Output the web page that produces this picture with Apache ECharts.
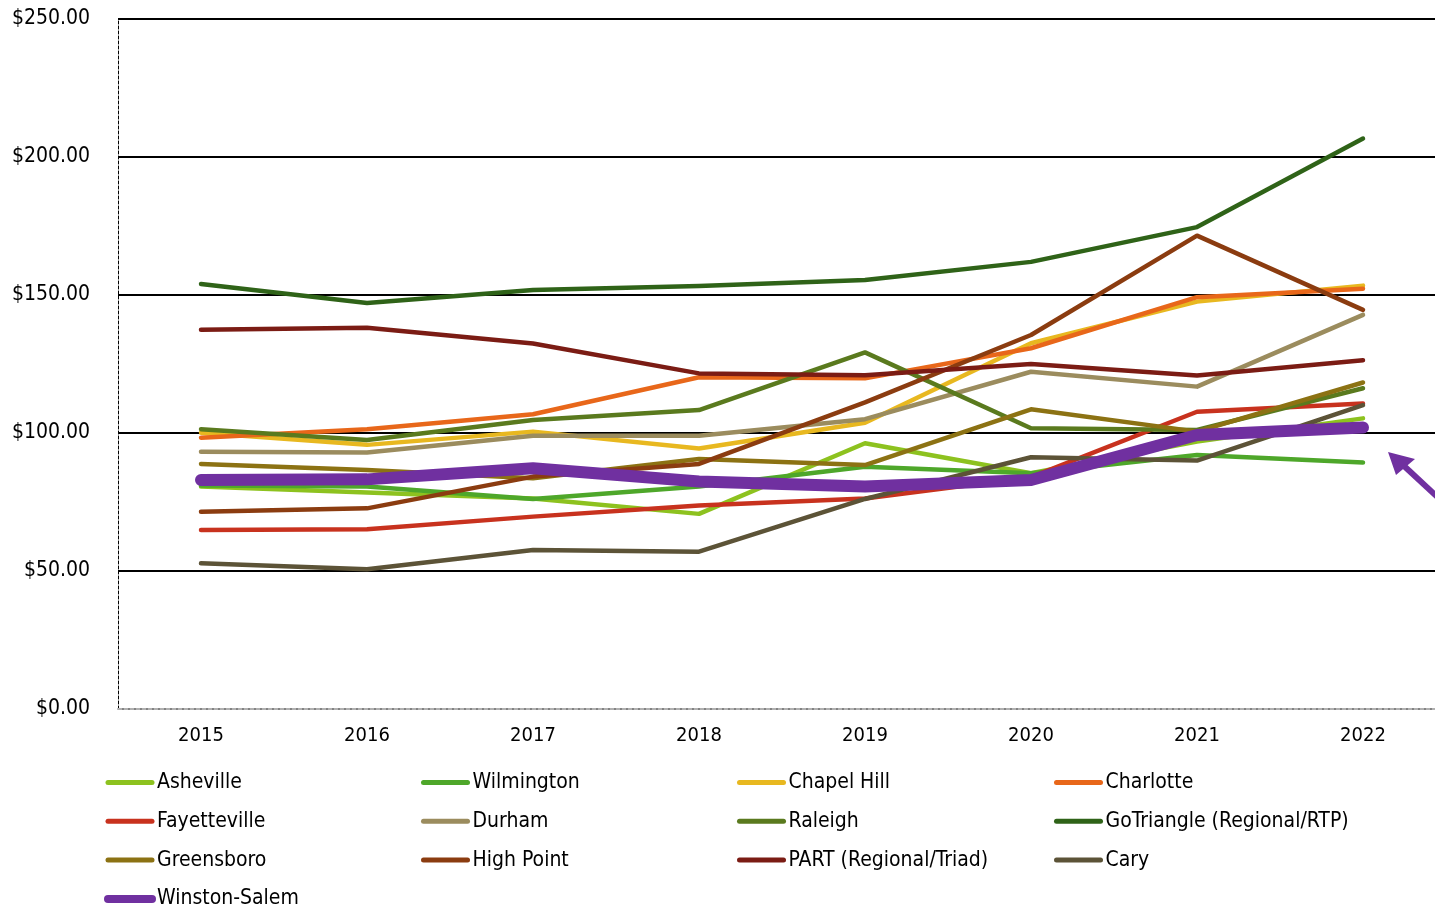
<!DOCTYPE html>
<html>
<head>
<meta charset="utf-8">
<script src="https://cdn.jsdelivr.net/npm/echarts@6/dist/echarts.min.js"></script>
<style>
html,body{margin:0;padding:0;background:#fff;}
#chart{width:1435px;height:908px;}
</style>
</head>
<body>
<div id="chart"></div>
<script>
const years = ['2015','2016','2017','2018','2019','2020','2021','2022'];
const yTicks = [0, 50, 100, 150, 200, 250];

const asheville     = [80.6, 78.4, 76.3, 70.7, 96.3, 85.4, 96.9, 105.3];
const wilmington    = [81.0, 80.6, 76.1, 80.6, 87.8, 85.4, 92.0, 89.3];
const chapelHill    = [100.1, 95.7, 100.5, 94.4, 103.7, 132.5, 147.6, 153.4];
const charlotte     = [98.3, 101.4, 106.8, 120.2, 119.8, 130.7, 149.2, 152.3];
const fayetteville  = [64.9, 65.1, 69.7, 73.7, 76.3, 84.0, 107.7, 110.7];
const durham        = [93.2, 92.9, 99.0, 99.0, 105.0, 122.2, 116.8, 142.8];
const raleigh       = [101.4, 97.5, 104.7, 108.3, 129.2, 101.7, 101.1, 116.2];
const goTriangle    = [154.0, 147.1, 151.8, 153.3, 155.4, 162.0, 174.6, 206.7];
const greensboro    = [88.8, 86.6, 83.6, 90.6, 88.4, 108.6, 100.5, 118.3];
const highPoint     = [71.5, 72.7, 84.2, 88.8, 111.1, 135.5, 171.5, 144.6];
const part          = [137.4, 138.1, 132.4, 121.6, 120.9, 125.0, 120.8, 126.4];
const cary          = [52.8, 50.6, 57.6, 57.0, 76.1, 91.2, 90.0, 110.1];
const winstonSalem  = [83.0, 83.2, 87.2, 82.4, 80.6, 83.0, 99.3, 102.0];

const seriesDefs = [
  {name:'Asheville', data:asheville, color:'#8DC21F', w:4.5},
  {name:'Wilmington', data:wilmington, color:'#4EA72A', w:4.5},
  {name:'Chapel Hill', data:chapelHill, color:'#E8B820', w:4.5},
  {name:'Charlotte', data:charlotte, color:'#E8671A', w:4.5},
  {name:'Fayetteville', data:fayetteville, color:'#C8321E', w:4.5},
  {name:'Durham', data:durham, color:'#9B8C5E', w:4.5},
  {name:'Raleigh', data:raleigh, color:'#5A7A1E', w:4.5},
  {name:'GoTriangle (Regional/RTP)', data:goTriangle, color:'#2F6318', w:4.5},
  {name:'Greensboro', data:greensboro, color:'#8C7213', w:4.5},
  {name:'High Point', data:highPoint, color:'#8B3C10', w:4.5},
  {name:'PART (Regional/Triad)', data:part, color:'#7B1C14', w:4.5},
  {name:'Cary', data:cary, color:'#5C5337', w:4.5},
  {name:'Winston-Salem', data:winstonSalem, color:'#7030A0', w:12}
];

const FONT = '"DejaVu Sans Condensed", "DejaVu Sans", sans-serif';
const chart = echarts.init(document.getElementById('chart'), null, {renderer:'canvas'});

const colLefts = [104, 421, 737, 1054];
const legends = colLefts.map((left, c) => ({
  orient: 'vertical',
  left: left,
  top: 772,
  height: 200,
  itemWidth: 44,
  itemHeight: 21,
  itemGap: 17.8,
  padding: 0,
  selectedMode: false,
  itemStyle: {opacity: 0, borderWidth: 0},
  textStyle: {fontFamily: FONT, fontSize: 21, color: '#000'},
  data: seriesDefs.filter((s, i) => i % 4 === c).map(s => ({
    name: s.name,
    itemStyle: {opacity: 0, borderWidth: 0},
    lineStyle: {width: s.w > 6 ? 8 : 5, cap: 'round', color: s.color, opacity: 1}
  }))
}));

chart.setOption({
  animation: false,
  backgroundColor: '#fff',
  grid: {left: 118, top: 19, width: 1328, bottom: 199, containLabel: false, outerBoundsMode: 'none'},
  legend: legends,
  xAxis: {
    type: 'category',
    data: years,
    boundaryGap: true,
    axisLine: {show: true, lineStyle: {color: '#b0b0b0', width: 2, type: [4, 2]}},
    axisTick: {show: false},
    axisLabel: {fontFamily: FONT, fontSize: 20, color: '#000', margin: 17}
  },
  yAxis: {
    type: 'value',
    min: yTicks[0],
    max: yTicks[yTicks.length - 1],
    interval: yTicks[1] - yTicks[0],
    axisLine: {show: true, lineStyle: {color: '#000', width: 1, type: [3, 2]}},
    axisTick: {show: false},
    splitLine: {show: true, lineStyle: {color: '#000', width: 2}},
    axisLabel: {
      fontFamily: FONT, fontSize: 21, color: '#000', margin: 28,
      formatter: v => '$' + v.toFixed(2)
    }
  },
  series: seriesDefs.map(s => ({
    name: s.name,
    type: 'line',
    data: s.data,
    symbol: 'none',
    smooth: false,
    color: s.color,
    lineStyle: {width: s.w, color: s.color, cap: 'round', join: 'round'},
    z: s.w > 6 ? 5 : 3
  })),
  graphic: [
    {type: 'line', shape: {x1: 1403, y1: 465, x2: 1460, y2: 518},
     style: {stroke: '#7030A0', lineWidth: 6}},
    {type: 'polygon', shape: {points: [[1388, 452], [1415, 459], [1396, 475]]},
     style: {fill: '#7030A0'}}
  ]
});
</script>
</body>
</html>
